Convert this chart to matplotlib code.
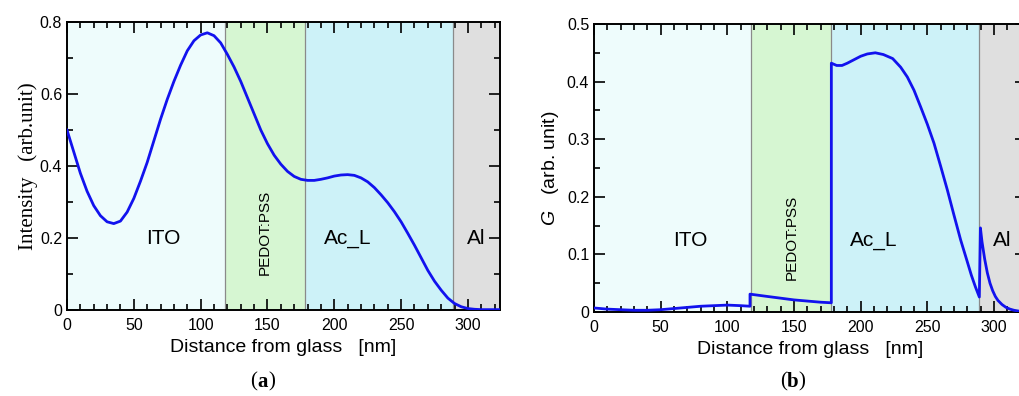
"""Optical field intensity and generation rate across the device stack."""

import matplotlib

matplotlib.use("Agg")
import matplotlib.pyplot as plt  # noqa: E402
from matplotlib.ticker import FuncFormatter, MultipleLocator  # noqa: E402

plt.rcParams["font.family"] = ["Liberation Sans", "DejaVu Sans"]
plt.rcParams["mathtext.fontset"] = "custom"
plt.rcParams["mathtext.it"] = "Liberation Sans:italic"
plt.rcParams["mathtext.rm"] = "Liberation Sans"

# layer boundaries [nm]
LAYER_NAMES = ["ITO", "PEDOT:PSS", "Ac_L", "Al"]
LAYER_EDGES = [0, 118, 178, 289, 330]
LAYER_COLORS = ["#eefcfc", "#d6f6d2", "#cdf2f8", "#dfdfdf"]

# (a) optical intensity
dist_a = [0, 5, 10, 15, 20, 25, 30, 35, 40, 45, 50, 55, 60, 65, 70, 75, 80,
          85, 90, 95, 100, 105, 110, 115, 120, 125, 130, 135, 140, 145, 150,
          155, 160, 165, 170, 175, 180, 185, 190, 195, 200, 205, 210, 215,
          220, 225, 230, 235, 240, 245, 250, 255, 260, 265, 270, 275, 280,
          285, 290, 295, 300, 305, 310, 315, 320, 325]
intensity = [0.50, 0.44, 0.38, 0.33, 0.29, 0.262, 0.245, 0.24, 0.247, 0.272,
             0.31, 0.358, 0.41, 0.47, 0.53, 0.585, 0.635, 0.68, 0.72, 0.748,
             0.764, 0.77, 0.762, 0.742, 0.71, 0.675, 0.635, 0.59, 0.545,
             0.50, 0.462, 0.43, 0.405, 0.385, 0.371, 0.363, 0.36, 0.36,
             0.363, 0.367, 0.372, 0.375, 0.376, 0.374, 0.367, 0.356, 0.34,
             0.32, 0.298, 0.273, 0.245, 0.213, 0.18, 0.145, 0.11, 0.08,
             0.055, 0.033, 0.018, 0.009, 0.004, 0.002, 0.001, 0.001, 0.001,
             0.001]

# (b) generation rate, with jumps at the interfaces
dist_b = [0, 10, 20, 30, 40, 50, 60, 70, 80, 90, 100, 110, 117, 117.01, 130,
          140, 150, 160, 170, 178, 178.01, 182, 186, 190, 195, 200, 205, 211,
          217, 224, 230, 235, 240, 245, 250, 255, 260, 265, 270, 275, 280,
          283, 286, 289, 289.8, 291, 293, 295, 297, 299, 301, 303, 306, 309,
          312, 315, 320, 325]
gen_rate = [0.007, 0.005, 0.004, 0.003, 0.003, 0.004, 0.006, 0.008, 0.010,
            0.011, 0.012, 0.011, 0.010, 0.031, 0.027, 0.024, 0.021, 0.019,
            0.017, 0.016, 0.432, 0.428, 0.428, 0.432, 0.438, 0.444, 0.448,
            0.450, 0.447, 0.440, 0.425, 0.408, 0.385, 0.356, 0.326, 0.293,
            0.253, 0.212, 0.168, 0.125, 0.087, 0.064, 0.044, 0.026, 0.146,
            0.122, 0.092, 0.068, 0.050, 0.037, 0.027, 0.020, 0.013, 0.008,
            0.005, 0.003, 0.001, 0.0]


def draw_layers(ax, label_y, pedot_y):
    for i, name in enumerate(LAYER_NAMES):
        x0, x1 = LAYER_EDGES[i], LAYER_EDGES[i + 1]
        ax.axvspan(x0, x1, facecolor=LAYER_COLORS[i], edgecolor="none", zorder=0)
        if i > 0:
            ax.axvline(x0, color="#8a8a8a", lw=0.9, zorder=1)
    ax.text(72, label_y, "ITO", fontsize=15, ha="center", va="center")
    ax.text(148, pedot_y, "PEDOT:PSS", fontsize=11, rotation=90,
            ha="center", va="center")
    ax.text(210, label_y, "Ac_L", fontsize=15, ha="center", va="center")
    ax.text(306, label_y, "Al", fontsize=15, ha="center", va="center")


def style_axes(ax, ymajor, yminor):
    ax.set_xlim(0, 324)
    ax.xaxis.set_major_locator(MultipleLocator(50))
    ax.xaxis.set_minor_locator(MultipleLocator(10))
    ax.yaxis.set_major_locator(MultipleLocator(ymajor))
    ax.yaxis.set_minor_locator(MultipleLocator(yminor))
    ax.yaxis.set_major_formatter(
        FuncFormatter(lambda v, _: "0" if v == 0 else f"{v:.1f}"))
    ax.tick_params(which="both", direction="in", top=True, right=True,
                   labelsize=11.5, width=1.2)
    ax.tick_params(which="major", length=8)
    ax.tick_params(which="minor", length=4)
    ax.tick_params(axis="x", pad=6)
    for spine in ax.spines.values():
        spine.set_linewidth(1.4)
    ax.set_xlabel("Distance from glass   [nm]", fontsize=14, labelpad=4)


fig = plt.figure(figsize=(10.19, 3.96), dpi=100)

ax_a = fig.add_axes([67 / 1019, 86 / 396, 433 / 1019, 288 / 396])
draw_layers(ax_a, 0.2, 0.215)
ax_a.plot(dist_a, intensity, color="#1212ee", lw=2, zorder=3)
ax_a.set_ylim(0, 0.8)
style_axes(ax_a, 0.2, 0.1)
ax_a.set_ylabel("Intensity   (arb.unit)", fontsize=15,
                family=["Liberation Serif", "DejaVu Serif"], labelpad=1)

ax_b = fig.add_axes([594 / 1019, 84 / 396, 432 / 1019, 288 / 396])
draw_layers(ax_b, 0.125, 0.13)
ax_b.plot(dist_b, gen_rate, color="#1212ee", lw=2, zorder=3)
ax_b.set_ylim(0, 0.5)
style_axes(ax_b, 0.1, 0.05)
ax_b.set_ylabel(r"$G$   (arb. unit)", fontsize=14, labelpad=4)

serif = ["Liberation Serif", "DejaVu Serif"]
for x0, letter in [(257, "a"), (787, "b")]:
    fig.text(x0 / 1019, 1 - 382 / 396, "(", fontsize=15, family=serif,
             ha="right", va="center")
    fig.text(x0 / 1019, 1 - 382 / 396, letter, fontsize=15, family=serif,
             weight="bold", ha="left", va="center")
    fig.text((x0 + 11) / 1019, 1 - 382 / 396, ")", fontsize=15, family=serif,
             ha="left", va="center")

fig.savefig("out.png", dpi=100)
